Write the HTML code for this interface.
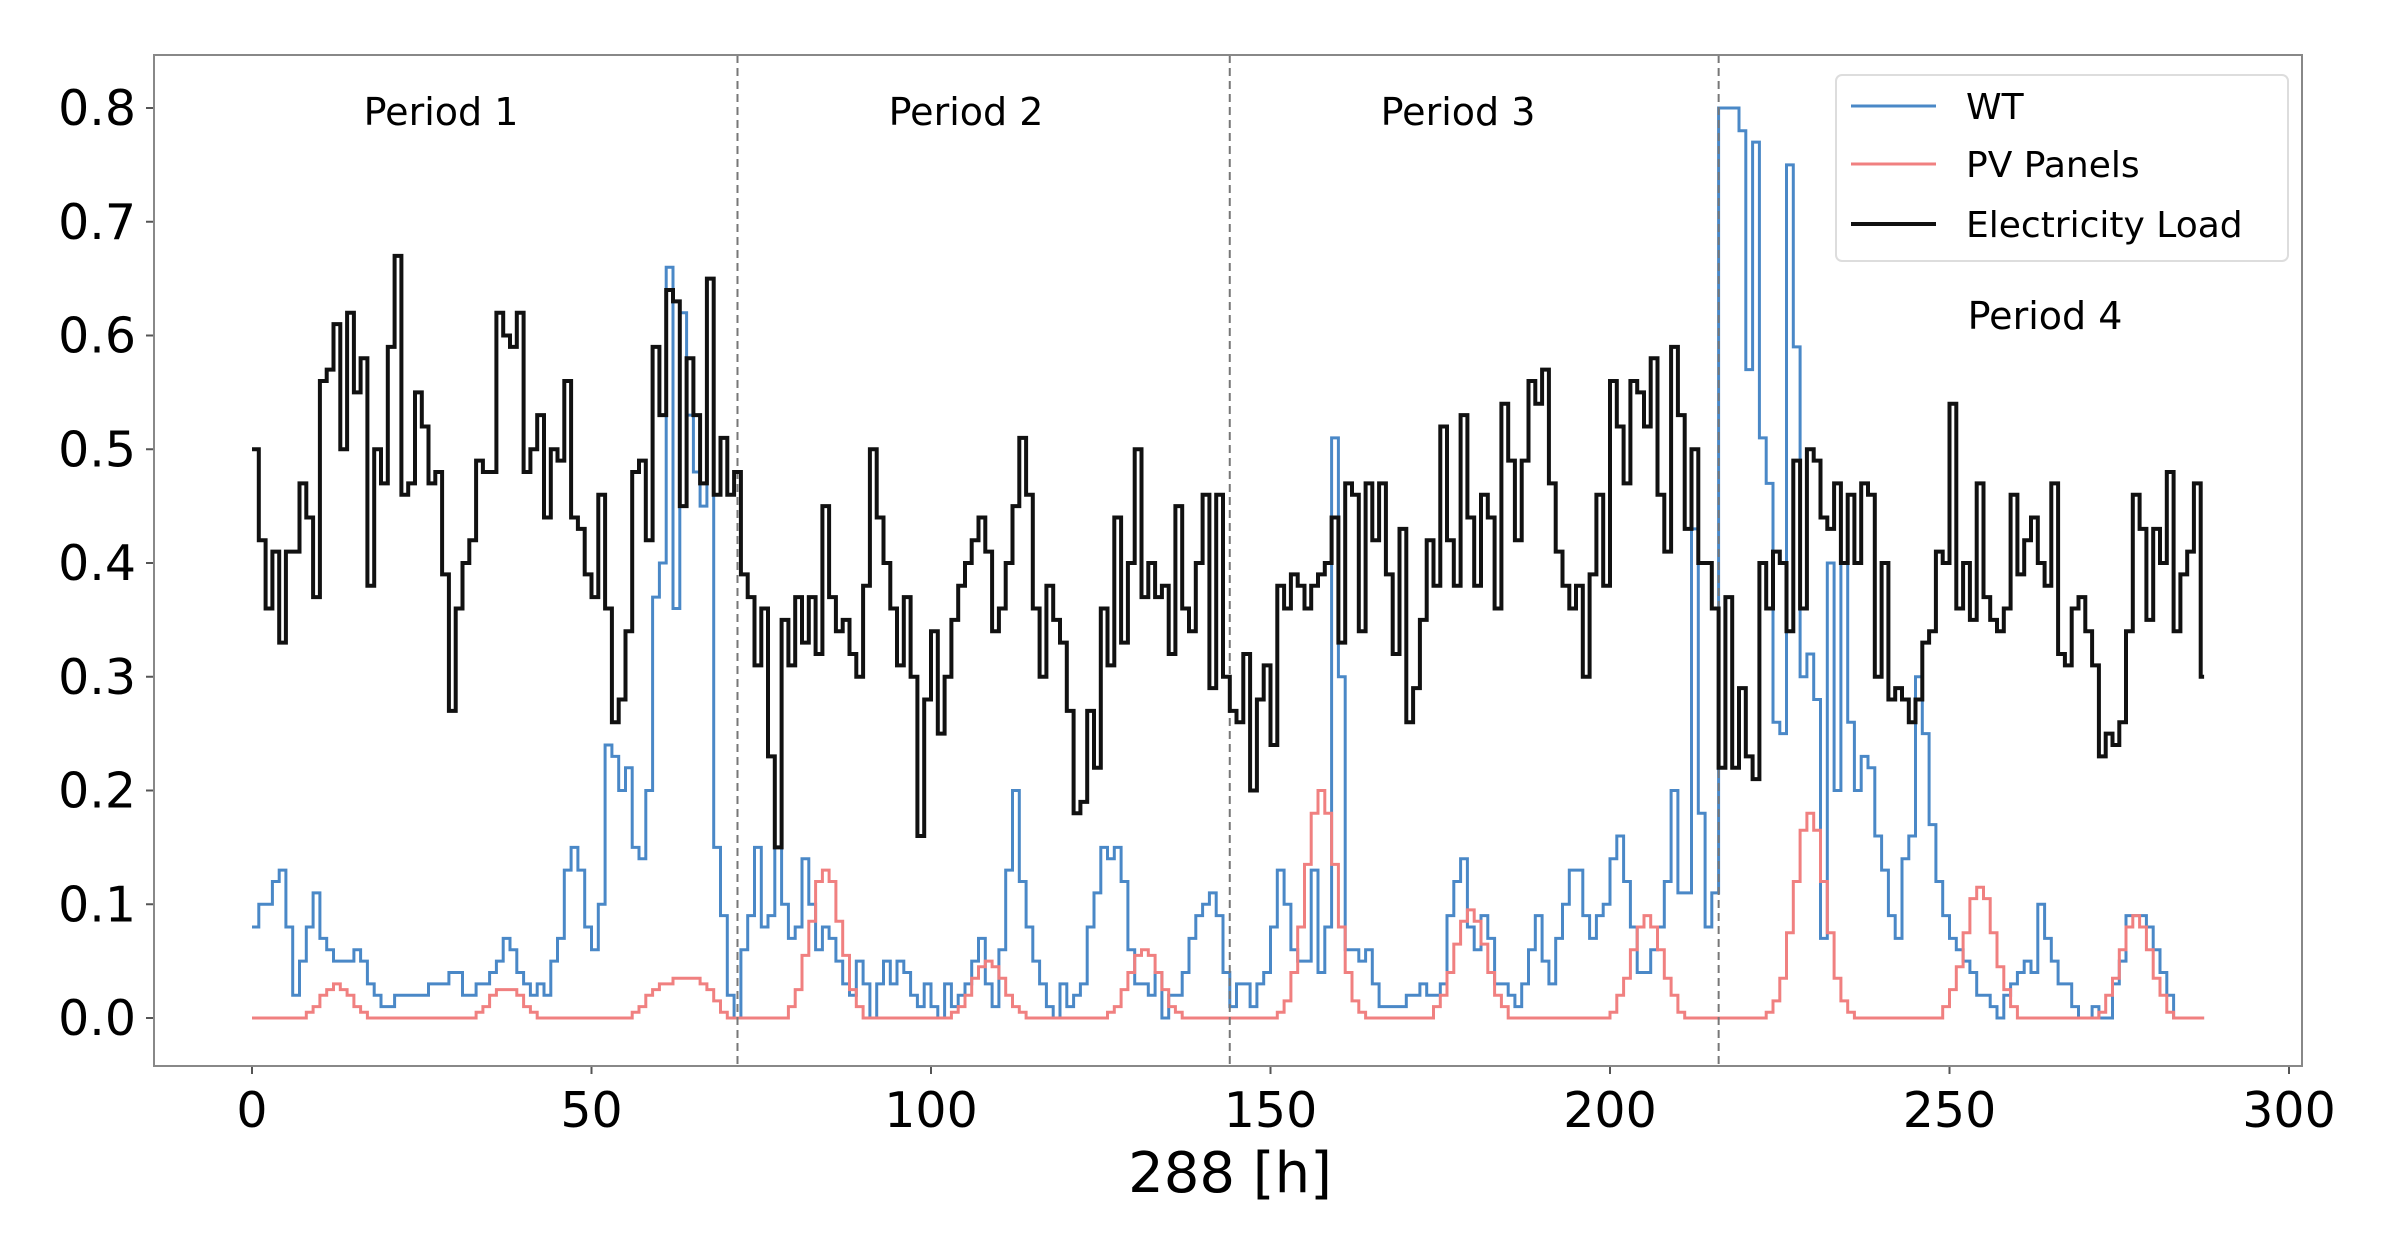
<!DOCTYPE html>
<html><head><meta charset="utf-8">
<style>
html,body{margin:0;padding:0;background:#fff;}
svg{display:block;font-family:"DejaVu Sans","Liberation Sans",sans-serif;}
</style></head>
<body>
<svg id="s" width="2384" height="1241" viewBox="0 0 2384 1241" xmlns="http://www.w3.org/2000/svg">
<rect width="2384" height="1241" fill="#fff"/>
<g id="plot"></g>
<rect x="154" y="55" width="2148" height="1011" fill="none" stroke="#888" stroke-width="2"/>
<g font-size="49" fill="#000" text-anchor="end" id="yt"></g>
<g font-size="49" fill="#000" text-anchor="middle" id="xt"></g>
<text x="1230" y="1192" font-size="56" text-anchor="middle">288 [h]</text>
<g font-size="38" text-anchor="middle">
<text x="441" y="125">Period 1</text>
<text x="966" y="125">Period 2</text>
<text x="1458" y="125">Period 3</text>
<text x="2045" y="329">Period 4</text>
</g>
<rect x="1836" y="75" width="452" height="186" rx="6" fill="#fff" fill-opacity="0.85" stroke="#ddd" stroke-width="2"/>
<line x1="1851" y1="106" x2="1936" y2="106" stroke="#4a88c7" stroke-width="3"/>
<line x1="1851" y1="164" x2="1936" y2="164" stroke="#f08080" stroke-width="3"/>
<line x1="1851" y1="224" x2="1936" y2="224" stroke="#111" stroke-width="4"/>
<g font-size="36">
<text x="1966" y="119">WT</text>
<text x="1966" y="177">PV Panels</text>
<text x="1966" y="237">Electricity Load</text>
</g>
</svg>
<script>
var X=function(h){return 252+h*6.79;}, Y=function(v){return 1018-v*1137.5;};
var load=[0.50,0.42,0.36,0.41,0.33,0.41,0.41,0.47,0.44,0.37,0.56,0.57,0.61,0.50,0.62,0.55,0.58,0.38,0.50,0.47,0.59,0.67,0.46,0.47,0.55,0.52,0.47,0.48,0.39,0.27,0.36,0.40,0.42,0.49,0.48,0.48,0.62,0.60,0.59,0.62,0.48,0.50,0.53,0.44,0.50,0.49,0.56,0.44,0.43,0.39,0.37,0.46,0.36,0.26,0.28,0.34,0.48,0.49,0.42,0.59,0.53,0.64,0.63,0.45,0.58,0.53,0.47,0.65,0.46,0.51,0.46,0.48,0.39,0.37,0.31,0.36,0.23,0.15,0.35,0.31,0.37,0.33,0.37,0.32,0.45,0.37,0.34,0.35,0.32,0.30,0.38,0.50,0.44,0.40,0.36,0.31,0.37,0.30,0.16,0.28,0.34,0.25,0.30,0.35,0.38,0.40,0.42,0.44,0.41,0.34,0.36,0.40,0.45,0.51,0.46,0.36,0.30,0.38,0.35,0.33,0.27,0.18,0.19,0.27,0.22,0.36,0.31,0.44,0.33,0.40,0.50,0.37,0.40,0.37,0.38,0.32,0.45,0.36,0.34,0.40,0.46,0.29,0.46,0.30,0.27,0.26,0.32,0.20,0.28,0.31,0.24,0.38,0.36,0.39,0.38,0.36,0.38,0.39,0.40,0.44,0.33,0.47,0.46,0.34,0.47,0.42,0.47,0.39,0.32,0.43,0.26,0.29,0.35,0.42,0.38,0.52,0.42,0.38,0.53,0.44,0.38,0.46,0.44,0.36,0.54,0.49,0.42,0.49,0.56,0.54,0.57,0.47,0.41,0.38,0.36,0.38,0.30,0.39,0.46,0.38,0.56,0.52,0.47,0.56,0.55,0.52,0.58,0.46,0.41,0.59,0.53,0.43,0.50,0.40,0.40,0.36,0.22,0.37,0.22,0.29,0.23,0.21,0.40,0.36,0.41,0.40,0.34,0.49,0.36,0.50,0.49,0.44,0.43,0.47,0.40,0.46,0.40,0.47,0.46,0.30,0.40,0.28,0.29,0.28,0.26,0.28,0.33,0.34,0.41,0.40,0.54,0.36,0.40,0.35,0.47,0.37,0.35,0.34,0.36,0.46,0.39,0.42,0.44,0.40,0.38,0.47,0.32,0.31,0.36,0.37,0.34,0.31,0.23,0.25,0.24,0.26,0.34,0.46,0.43,0.35,0.43,0.40,0.48,0.34,0.39,0.41,0.47,0.30];
var wt=[0.08,0.10,0.10,0.12,0.13,0.08,0.02,0.05,0.08,0.11,0.07,0.06,0.05,0.05,0.05,0.06,0.05,0.03,0.02,0.01,0.01,0.02,0.02,0.02,0.02,0.02,0.03,0.03,0.03,0.04,0.04,0.02,0.02,0.03,0.03,0.04,0.05,0.07,0.06,0.04,0.03,0.02,0.03,0.02,0.05,0.07,0.13,0.15,0.13,0.08,0.06,0.10,0.24,0.23,0.20,0.22,0.15,0.14,0.20,0.37,0.40,0.66,0.36,0.62,0.53,0.48,0.45,0.65,0.15,0.09,0.02,0.00,0.06,0.09,0.15,0.08,0.09,0.15,0.10,0.07,0.08,0.14,0.10,0.06,0.08,0.07,0.05,0.03,0.02,0.05,0.03,0.00,0.03,0.05,0.03,0.05,0.04,0.02,0.01,0.03,0.01,0.00,0.03,0.01,0.02,0.03,0.05,0.07,0.03,0.01,0.06,0.13,0.20,0.12,0.08,0.05,0.03,0.01,0.00,0.03,0.01,0.02,0.03,0.08,0.11,0.15,0.14,0.15,0.12,0.06,0.03,0.03,0.02,0.04,0.00,0.02,0.02,0.04,0.07,0.09,0.10,0.11,0.09,0.04,0.01,0.03,0.03,0.01,0.03,0.04,0.08,0.13,0.10,0.06,0.05,0.05,0.13,0.04,0.08,0.51,0.30,0.06,0.06,0.05,0.06,0.03,0.01,0.01,0.01,0.01,0.02,0.02,0.03,0.02,0.02,0.03,0.09,0.12,0.14,0.08,0.06,0.09,0.07,0.03,0.03,0.02,0.01,0.03,0.06,0.09,0.05,0.03,0.07,0.10,0.13,0.13,0.09,0.07,0.09,0.10,0.14,0.16,0.12,0.08,0.04,0.04,0.06,0.08,0.12,0.20,0.11,0.11,0.43,0.18,0.08,0.11,0.80,0.80,0.80,0.78,0.57,0.77,0.51,0.47,0.26,0.25,0.75,0.59,0.30,0.32,0.28,0.07,0.40,0.20,0.40,0.26,0.20,0.23,0.22,0.16,0.13,0.09,0.07,0.14,0.16,0.30,0.25,0.17,0.12,0.09,0.07,0.06,0.05,0.04,0.02,0.02,0.01,0.00,0.02,0.03,0.04,0.05,0.04,0.10,0.07,0.05,0.03,0.03,0.01,0.00,0.00,0.01,0.00,0.00,0.03,0.05,0.09,0.09,0.09,0.08,0.06,0.04,0.02,0.00,0,0,0,0];
var peaks=[[12,0.03],[37,0.027],[60,0.028],[65,0.035],[84,0.13],[108,0.05],[131,0.06],[157,0.20],[179,0.095],[205,0.09],[229,0.18],[254,0.115],[277,0.09]];
var pv=[];for(var h=0;h<288;h++){var v=0;peaks.forEach(function(p){var d=h-p[0];if(Math.abs(d)<8)v+=p[1]*Math.exp(-d*d/10);});pv.push(v<0.004?0:Math.round(v*200)/200);}
function path(a){var d="M"+X(0)+","+Y(a[0]);for(var i=1;i<a.length;i++){d+="H"+X(i).toFixed(1)+"V"+Y(a[i]).toFixed(1);}d+="H"+X(a.length-1+0.5).toFixed(1);return d;}
var ns="http://www.w3.org/2000/svg",g=document.getElementById("plot");
function add(tag,at,par){var e=document.createElementNS(ns,tag);for(var k in at)e.setAttribute(k,at[k]);(par||g).appendChild(e);return e;}
add("path",{d:path(wt),fill:"none",stroke:"#4a88c7","stroke-width":3});
add("path",{d:path(pv),fill:"none",stroke:"#f08080","stroke-width":3});
[71.5,144,216].forEach(function(h){add("line",{x1:X(h),x2:X(h),y1:55,y2:1066,stroke:"#777","stroke-width":2,"stroke-dasharray":"8,5"});});
add("path",{d:path(load),fill:"none",stroke:"#111","stroke-width":4,"stroke-linejoin":"miter"});
var yt=document.getElementById("yt"),xt=document.getElementById("xt");
for(var i=0;i<=8;i++){var y=Y(i/10);add("line",{x1:146,x2:154,y1:y,y2:y,stroke:"#555","stroke-width":2});var t=add("text",{x:136,y:y+17},yt);t.textContent=(i/10).toFixed(1);}
for(var j=0;j<=300;j+=50){var x=X(j);add("line",{x1:x,x2:x,y1:1066,y2:1074,stroke:"#555","stroke-width":2});var t2=add("text",{x:x,y:1127},xt);t2.textContent=j;}
</script>
</body></html>
